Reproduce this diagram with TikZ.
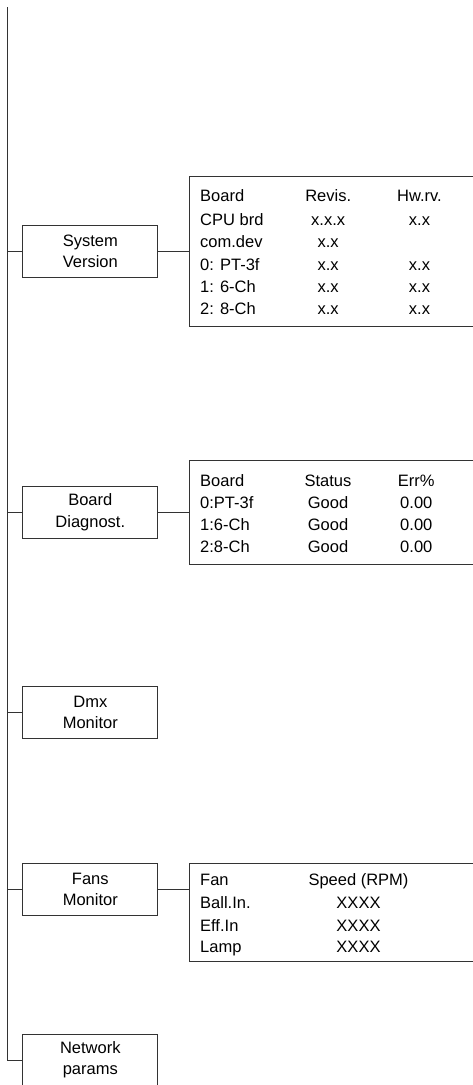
\documentclass[tikz,border=0pt]{standalone}
\usepackage{fontspec}
\setmainfont{Liberation Sans}
\usetikzlibrary{positioning}

\tikzset{
  menubox/.style={draw=black!80, line width=1pt, minimum width=135pt, minimum height=52pt,
    inner sep=0pt, align=center, font=\fontsize{16.5}{21.3}\selectfont},
  infobox/.style={draw=black!80, line width=1pt, minimum width=320pt, inner sep=0pt, anchor=north west},
  cell/.style={inner sep=0pt, font=\fontsize{16.5}{20}\selectfont},
  link/.style={draw=black!80, line width=1pt}
}

\begin{document}
\begin{tikzpicture}[x=1pt,y=-1pt]
    \useasboundingbox (0,0) rectangle (473,1085);
    \clip (0,0) rectangle (473,1085);

    % menu entries
    \node[menubox] (sys) at (90.3,251.5) {System\\Version};
    \node[menubox] (diag) at (90.3,512.2) {Board\\Diagnost.};
    \node[menubox] (dmx) at (90.3,712.7) {Dmx\\Monitor};
    \node[menubox] (fans) at (90.3,889.3) {Fans\\Monitor};
    \node[menubox] (net) at (90.3,1060) {Network\\params};

    % info panels
    \node[infobox, minimum height=150pt] (sysinfo) at (189.3,176) {};
    \node[infobox, minimum height=104.3pt] (diaginfo) at (189.3,460) {};
    \node[infobox, minimum height=97.7pt] (fansinfo) at (189.3,863.3) {};

    % spine and branches
    \coordinate (top) at (7.5,7);
    \draw[link] (top) |- (net.west);
    \foreach \m in {sys,diag,dmx,fans}
        \draw[link] (\m.west) -- (\m.west -| top);
    \draw[link] (sys.east) -- (sys.east -| sysinfo.west);
    \draw[link] (diag.east) -- (diag.east -| diaginfo.west);
    \draw[link] (fans.east) -- (fans.east -| fansinfo.west);

    % system version table
    \foreach \y/\a/\b/\c [count=\i] in {195.7/Board/Revis./Hw.rv.,
        219.3/CPU brd/x.x.x/x.x, 241.7/com.dev/x.x/, 264/0: PT-3f/x.x/x.x,
        286.7/1: 6-Ch/x.x/x.x, 308.3/2: 8-Ch/x.x/x.x} {
        \node[cell, anchor=base west] (sysA\i) at (200,\y+6) {\a};
        \node[cell, anchor=base] (sysB\i) at (328.2,\y+6) {\b};
        \node[cell, anchor=base] (sysC\i) at (419.5,\y+6) {\c};
    }

    % board diagnostics table
    \foreach \y/\a/\b/\c [count=\i] in {480.7/Board/Status/Err\%,
        502.3/0:PT-3f/Good/0.00, 524.3/1:6-Ch/Good/0.00, 546.7/2:8-Ch/Good/0.00} {
        \node[cell, anchor=base west] (diagA\i) at (200,\y+6) {\a};
        \node[cell, anchor=base] (diagB\i) at (328,\y+6) {\b};
        \node[cell, anchor=base] (diagC\i) at (416.3,\y+6) {\c};
    }

    % fans table
    \foreach \y/\a/\b [count=\i] in {879.3/Fan/Speed (RPM),
        902/Ball.In./XXXX, 925/Eff.In/XXXX, 946.7/Lamp/XXXX} {
        \node[cell, anchor=base west] (fanA\i) at (200,\y+6) {\a};
        \node[cell, anchor=base] (fanB\i) at (358.5,\y+6) {\b};
    }

\end{tikzpicture}
\end{document}
